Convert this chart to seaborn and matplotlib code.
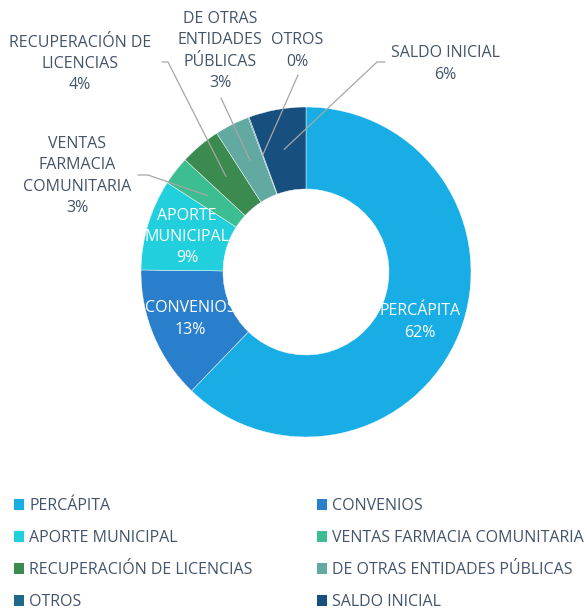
import matplotlib.pyplot as plt
import seaborn as sns
import numpy as np
from matplotlib.patches import Patch

# Datos
categorias = ["PERCÁPITA", "CONVENIOS", "APORTE MUNICIPAL", "VENTAS FARMACIA COMUNITARIA",
              "RECUPERACIÓN DE LICENCIAS", "DE OTRAS ENTIDADES PÚBLICAS", "OTROS", "SALDO INICIAL"]
porcentajes = [62.2, 13.0, 8.9, 2.8, 4.0, 3.4, 0.1, 5.6]
colores = ["#19ade6", "#2a7fcc", "#22cfdc", "#3dbd92", "#3b8a50", "#62a9a2", "#1f6a8c", "#174f7f"]
etiquetas = ["PERCÁPITA", "CONVENIOS", "APORTE\nMUNICIPAL", "VENTAS\nFARMACIA\nCOMUNITARIA",
             "RECUPERACIÓN DE\nLICENCIAS", "DE OTRAS\nENTIDADES\nPÚBLICAS", "OTROS", "SALDO INICIAL"]

sns.set_theme(style="white")
plt.rcParams['font.family'] = ['Open Sans', 'DejaVu Sans']
color_texto = "#44546a"

W, H = 587, 612
CX, CY, R = 306, 272, 165  # centro y radio del anillo en pixeles


def px(x, y):
    # pixel -> coordenadas del eje (radio del anillo = 1)
    return (x - CX) / R, (CY - y) / R


fig = plt.figure(figsize=(W / 100, H / 100), dpi=100)
ax = fig.add_axes([0, 0, 1, 1])

wedges, _ = ax.pie(porcentajes, colors=colores, startangle=90, counterclock=False,
                   radius=1, wedgeprops=dict(width=0.497, edgecolor="white", linewidth=0.3))
ax.set_xlim(-CX / R, (W - CX) / R)
ax.set_ylim(-(H - CY) / R, CY / R)
ax.set_aspect("auto")
ax.axis("off")

# posicion de cada etiqueta (pixeles), dentro/fuera, y punto de inicio de la guia
pos_etiquetas = [(420, 322), (190, 319), (187, 237), (77, 176),
                 (80, 64), (220, 51), (297, 51), (445, 64)]
dentro = [True, True, True, False, False, False, False, False]
guias = {3: [(138, 175), (148, 175)], 4: [(162, 62), (168, 62)],
         5: [(221, 98)], 6: [(298, 75)], 7: [(385, 62), (377, 62)]}

total = sum(porcentajes)
for i, w in enumerate(wedges):
    pct = porcentajes[i] / total * 100
    txt = f"{etiquetas[i]}\n{pct:.0f}%"
    x, y = px(*pos_etiquetas[i])
    ax.text(x, y, txt, ha="center", va="center", fontsize=11.5, linespacing=1.45,
            color="white" if dentro[i] else color_texto)
    if i in guias:
        ang = np.deg2rad((w.theta1 + w.theta2) / 2)
        fin = (0.755 * np.cos(ang), 0.755 * np.sin(ang))
        pts = [px(*p) for p in guias[i]] + [fin]
        ax.plot([p[0] for p in pts], [p[1] for p in pts], color="#a6a6a6", lw=0.9)

# Leyenda en dos columnas
for col, x0 in enumerate([14, 317]):
    idx = range(col, len(categorias), 2)
    handles = [Patch(facecolor=colores[k], edgecolor="none") for k in idx]
    fig.legend(handles, [categorias[k] for k in idx], loc="upper left",
               bbox_to_anchor=(x0 / W, 1 - 498 / H), frameon=False, fontsize=11.5,
               labelcolor=color_texto, handlelength=0.65, handleheight=0.65,
               handletextpad=0.3, labelspacing=1.0, borderpad=0, borderaxespad=0)

plt.savefig("out.png", dpi=100)
